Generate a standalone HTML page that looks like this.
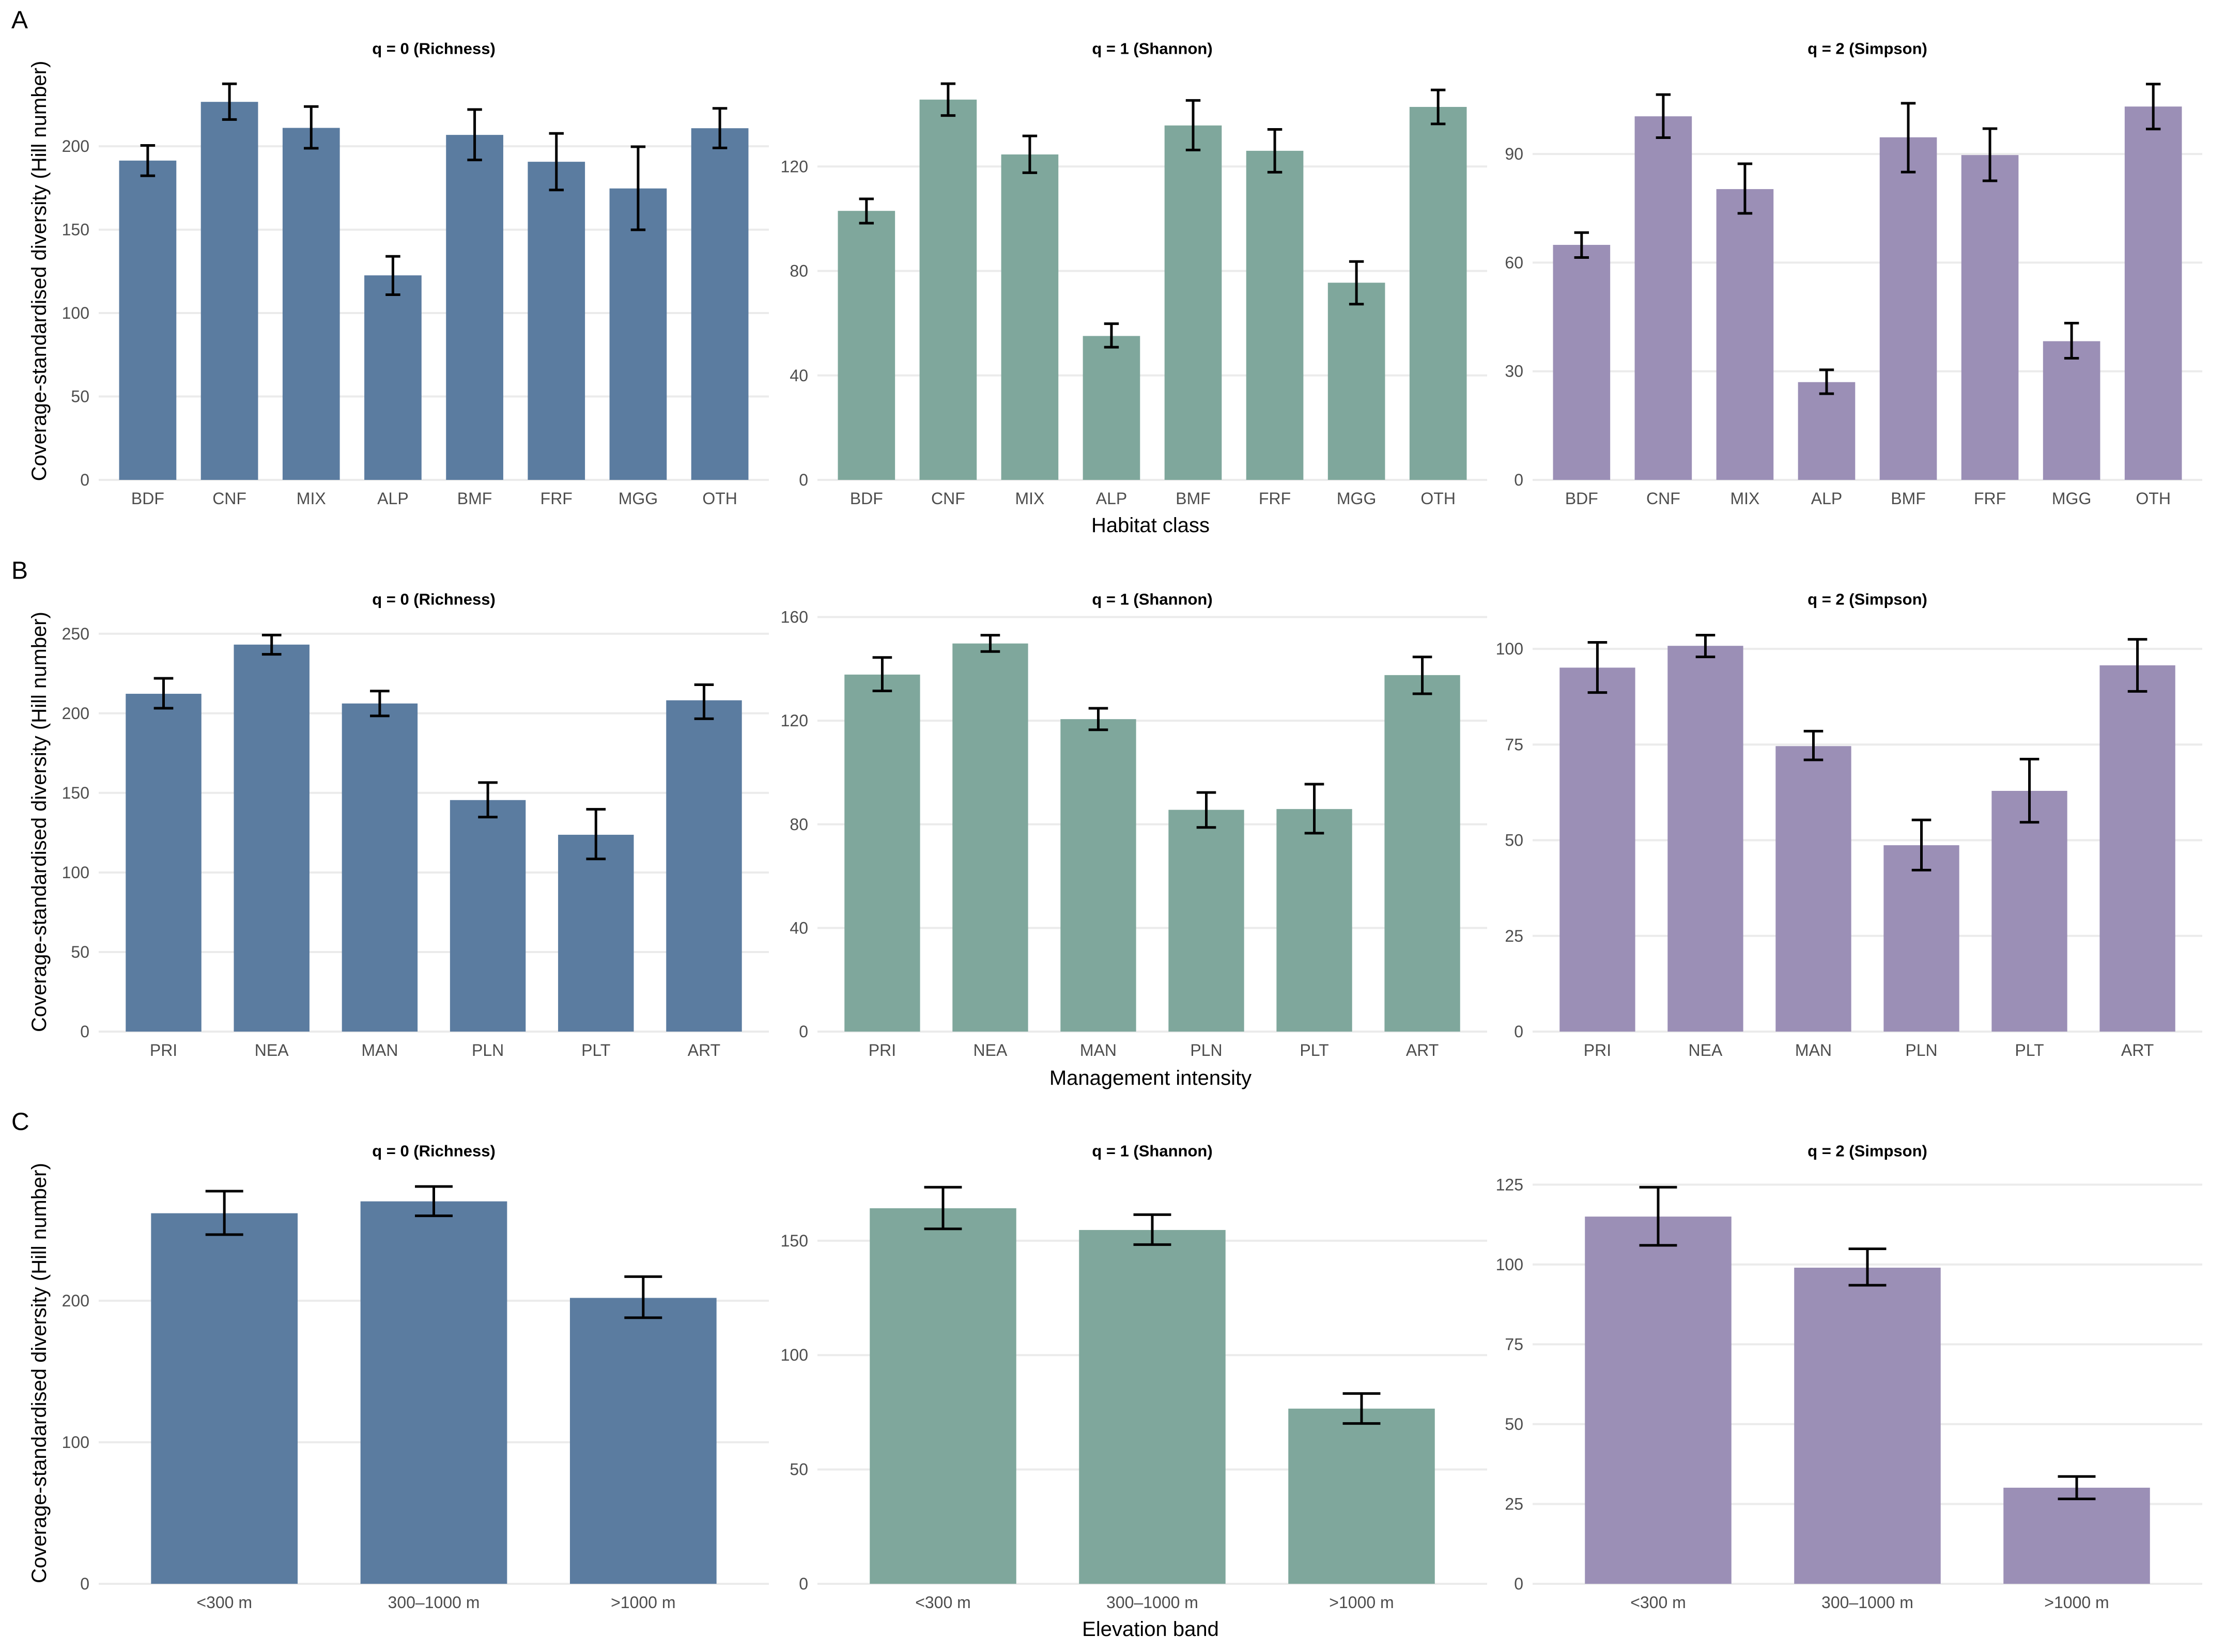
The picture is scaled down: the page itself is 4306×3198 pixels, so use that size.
<!DOCTYPE html>
<html><head><meta charset="utf-8"><title>Coverage-standardised diversity</title>
<style>
html,body{margin:0;padding:0;background:#fff;}
svg{display:block;font-family:"Liberation Sans",Arial,sans-serif;}
</style></head>
<body>
<svg id="chart" width="4306" height="3198" viewBox="0 0 4306 3198" xmlns="http://www.w3.org/2000/svg"></svg>
<script>
// ---- data ----
const habitatCats = ["BDF","CNF","MIX","ALP","BMF","FRF","MGG","OTH"];
const habitatQ0 = [191.4,226.6,211,122.6,206.8,190.7,174.7,210.8];
const habitatQ0Lo = [182.3,216,198.8,111,191.8,173.8,149.9,199];
const habitatQ0Hi = [200.5,237.4,223.8,134,222,207.7,199.7,222.7];
const habitatQ1 = [103,145.6,124.6,55.1,135.7,126,75.5,142.8];
const habitatQ1Lo = [98.3,139.5,117.6,50.8,126.3,117.8,67.3,136.3];
const habitatQ1Hi = [107.6,151.7,131.7,59.8,145.3,134.2,83.6,149.3];
const habitatQ2 = [64.9,100.4,80.3,27,94.6,89.7,38.3,103.1];
const habitatQ2Lo = [61.4,94.5,73.6,23.8,85,82.6,33.6,96.9];
const habitatQ2Hi = [68.3,106.4,87.3,30.4,104,97,43.3,109.3];

const mgmtCats = ["PRI","NEA","MAN","PLN","PLT","ART"];
const mgmtQ0 = [212.3,243.2,206.2,145.5,123.7,208.2];
const mgmtQ0Lo = [203.2,237.1,198.4,134.8,108.5,196.6];
const mgmtQ0Hi = [222,249.2,214,156.5,139.7,218];
const mgmtQ1 = [137.8,149.8,120.6,85.6,85.9,137.6];
const mgmtQ1Lo = [131.5,146.7,116.5,78.8,76.6,130.4];
const mgmtQ1Hi = [144.4,153,124.8,92.3,95.5,144.6];
const mgmtQ2 = [95.1,100.8,74.6,48.7,62.9,95.7];
const mgmtQ2Lo = [88.6,97.9,71,42.2,54.7,88.9];
const mgmtQ2Hi = [101.7,103.6,78.5,55.3,71.2,102.5];

const elevCats = ["<300 m","300\u20131000 m",">1000 m"];
const elevQ0 = [261.8,270.2,202];
const elevQ0Lo = [246.7,260,188];
const elevQ0Hi = [277.4,280.7,217];
const elevQ1 = [164.2,154.7,76.6];
const elevQ1Lo = [155.2,148.3,70.1];
const elevQ1Hi = [173.4,161.4,83.2];
const elevQ2 = [115,99,30.1];
const elevQ2Lo = [106,93.5,26.6];
const elevQ2Hi = [124.2,104.9,33.6];

const ticksA = [[0,50,100,150,200],[0,40,80,120],[0,30,60,90]];
const ticksB = [[0,50,100,150,200,250],[0,40,80,120,160],[0,25,50,75,100]];
const ticksC = [[0,100,200],[0,50,100,150],[0,25,50,75,100,125]];
const panelTitles = ["q = 0 (Richness)","q = 1 (Shannon)","q = 2 (Simpson)"];
const rowLetters = ["A","B","C"];
const xTitles = ["Habitat class","Management intensity","Elevation band"];

// ---- layout ----
const NS = "http://www.w3.org/2000/svg";
const svg = document.getElementById("chart");
const colX = [[191,1488],[1582,2878],[2966,4262]];
const colors = ["#5B7CA0","#7FA79C","#9B8FB6"];
const rows = [
  {top:120, zero:929, yMax:[250.5,160,115.4], cats:habitatCats,
   vals:[habitatQ0,habitatQ1,habitatQ2], lo:[habitatQ0Lo,habitatQ1Lo,habitatQ2Lo], hi:[habitatQ0Hi,habitatQ1Hi,habitatQ2Hi],
   ticks:ticksA, titleY:94, letterY:39, xTitleY:1017},
  {top:1185, zero:1997, yMax:[263.6,161.9,109.6], cats:mgmtCats,
   vals:[mgmtQ0,mgmtQ1,mgmtQ2], lo:[mgmtQ0Lo,mgmtQ1Lo,mgmtQ2Lo], hi:[mgmtQ0Hi,mgmtQ1Hi,mgmtQ2Hi],
   ticks:ticksB, titleY:1160, letterY:1105, xTitleY:2087},
  {top:2250, zero:3066, yMax:[297.8,184.3,132], cats:elevCats,
   vals:[elevQ0,elevQ1,elevQ2], lo:[elevQ0Lo,elevQ1Lo,elevQ2Lo], hi:[elevQ0Hi,elevQ1Hi,elevQ2Hi],
   ticks:ticksC, titleY:2228, letterY:2172, xTitleY:3154}
];

function mk(tag, attrs, text){
  const e = document.createElementNS(NS, tag);
  for (const k in attrs) e.setAttribute(k, attrs[k]);
  if (text !== undefined) e.textContent = text;
  svg.appendChild(e);
  return e;
}

rows.forEach((row, r) => {
  const letter = mk("text",{x:22,y:row.letterY,"font-size":48,fill:"#000","dominant-baseline":"central"},rowLetters[r]);
  
  

  const cy = (row.top + row.zero) / 2;
  const yt = mk("text",{x:76,y:cy,"font-size":40,fill:"#000","text-anchor":"middle","dominant-baseline":"central",transform:"rotate(-90 76 "+cy+")"},"Coverage-standardised diversity (Hill number)");
  
  

  const xt = mk("text",{x:(colX[0][0]+colX[2][1])/2,y:row.xTitleY,"font-size":40,fill:"#000","text-anchor":"middle","dominant-baseline":"central"},xTitles[r]);
  
  

  for (let c = 0; c < 3; c++) {
    const [x0, x1] = colX[c];
    const n = row.cats.length;
    const step = (x1 - x0) / (n + 0.2);
    const xPos = i => x0 + step * (0.6 + i);
    const yPos = v => row.zero - (v / row.yMax[c]) * (row.zero - row.top);

    const t = mk("text",{x:(x0+x1)/2,y:row.titleY,"font-size":31,"font-weight":"bold",fill:"#000","text-anchor":"middle","dominant-baseline":"central"},panelTitles[c]);
    
    

    row.ticks[c].forEach(tv => {
      const y = yPos(tv);
      const g = mk("line",{x1:x0,x2:x1,y1:y,y2:y,stroke:"#EBEBEB","stroke-width":4});
      
      
      const tl = mk("text",{x:x0-18,y:y,"font-size":32,fill:"#4D4D4D","text-anchor":"end","dominant-baseline":"central"},String(tv));
      
      
    });

    const bw = step * 0.7, cw = step * 0.18;
    row.cats.forEach((cat, i) => {
      const cx = xPos(i);
      const v = row.vals[c][i];
      const b = mk("rect",{x:cx-bw/2,y:yPos(v),width:bw,height:row.zero-yPos(v),fill:colors[c]});
      
      
      const yl = yPos(row.lo[c][i]), yh = yPos(row.hi[c][i]);
      const e1 = mk("line",{x1:cx,x2:cx,y1:yl,y2:yh,stroke:"#000","stroke-width":5});
      
      
      const e2 = mk("line",{x1:cx-cw/2,x2:cx+cw/2,y1:yh,y2:yh,stroke:"#000","stroke-width":5});
      
      
      const e3 = mk("line",{x1:cx-cw/2,x2:cx+cw/2,y1:yl,y2:yl,stroke:"#000","stroke-width":5});
      
      
      const xl = mk("text",{x:cx,y:row.zero+36,"font-size":32,fill:"#4D4D4D","text-anchor":"middle","dominant-baseline":"central"},cat);
      
      
    });
  }
});
</script>
</body></html>
